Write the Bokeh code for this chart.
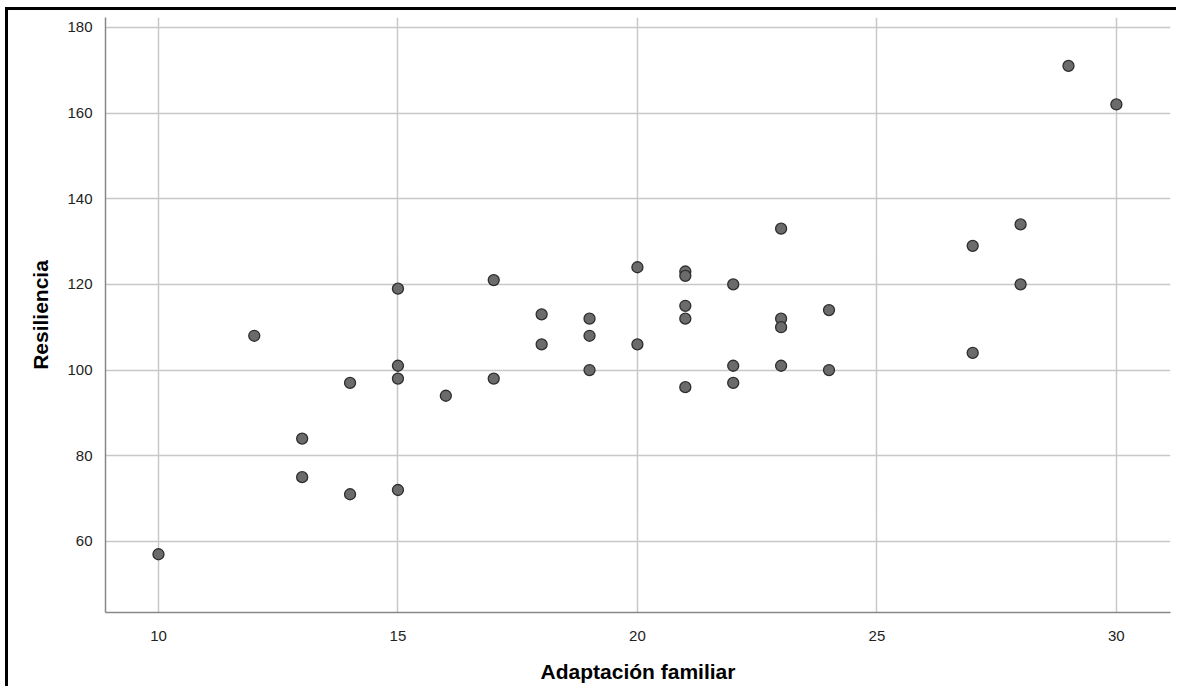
from bokeh.plotting import figure
from bokeh.models import Range1d, FixedTicker
from bokeh.embed import file_html
from bokeh.resources import INLINE

adaptacion = [10, 12, 13, 13, 14, 14, 15, 15, 15, 15, 16, 17, 17, 18, 18, 19, 19, 19,
              20, 20, 21, 21, 21, 21, 21, 22, 22, 22, 23, 23, 23, 23, 24, 24,
              27, 27, 28, 28, 29, 30]
resiliencia = [57, 108, 84, 75, 97, 71, 119, 101, 98, 72, 94, 121, 98, 113, 106, 112, 108, 100,
               124, 106, 123, 122, 115, 112, 96, 120, 101, 97, 133, 112, 110, 101, 114, 100,
               129, 104, 134, 120, 171, 162]
x_ticks = [10, 15, 20, 25, 30]
y_ticks = [60, 80, 100, 120, 140, 160, 180]

p = figure(width=1171, height=679, output_backend="svg", toolbar_location=None,
           x_range=Range1d(8.894, 31.13), y_range=Range1d(43.4, 182.3),
           min_border_left=97, min_border_right=9, min_border_top=7, min_border_bottom=77)
p.styles = {"border-left": "3px solid black", "border-top": "3px solid black",
            "margin-left": "5px", "margin-top": "7px"}
p.outline_line_color = None

p.xaxis.ticker = FixedTicker(ticks=x_ticks)
p.yaxis.ticker = FixedTicker(ticks=y_ticks)
for ax in (p.xaxis, p.yaxis):
    ax.axis_line_color = "#888888"
    ax.axis_line_width = 1.5
    ax.major_tick_line_color = None
    ax.minor_tick_line_color = None
    ax.major_label_text_font = "Liberation Sans"
    ax.major_label_text_font_size = "15px"
    ax.major_label_text_color = "#222222"
    ax.axis_label_text_font = "Liberation Sans"
    ax.axis_label_text_font_size = "21px"
    ax.axis_label_text_font_style = "bold"
    ax.axis_label_text_color = "#000000"

p.xaxis.axis_label = "Adaptación familiar"
p.yaxis.axis_label = "Resiliencia"
p.xaxis.major_label_standoff = 12
p.xaxis.axis_label_standoff = 16
p.yaxis.major_label_standoff = 7
p.yaxis.axis_label_standoff = 12

p.xgrid.grid_line_color = "#c8c8c8"
p.ygrid.grid_line_color = "#c8c8c8"
p.xgrid.grid_line_width = 1.5
p.ygrid.grid_line_width = 1.5

p.scatter(adaptacion, resiliencia, size=11, fill_color="#6b6b6b",
          line_color="#2e2e2e", line_width=1.3)

open("out.html", "w").write(file_html(p, INLINE))
